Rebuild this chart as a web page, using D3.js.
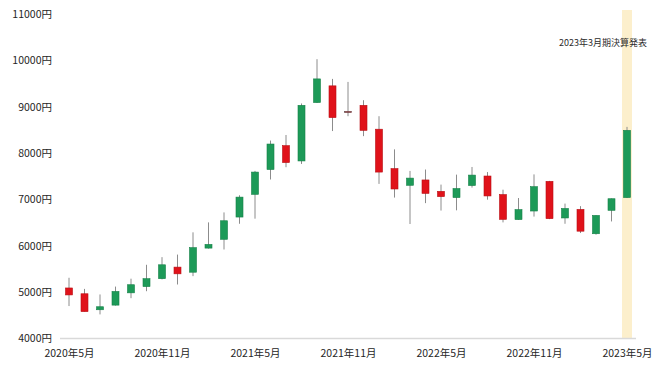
<!DOCTYPE html>
<html>
<head>
<meta charset="utf-8">
<script src="https://cdn.jsdelivr.net/npm/d3@7"></script>
<style>
  body { margin: 0; background: #fff; }
</style>
</head>
<body>
<div id="main"></div>
<script>
var months = ["2020-05","2020-06","2020-07","2020-08","2020-09","2020-10","2020-11","2020-12",
    "2021-01","2021-02","2021-03","2021-04","2021-05","2021-06","2021-07","2021-08","2021-09",
    "2021-10","2021-11","2021-12","2022-01","2022-02","2022-03","2022-04","2022-05","2022-06",
    "2022-07","2022-08","2022-09","2022-10","2022-11","2022-12","2023-01","2023-02","2023-03",
    "2023-04","2023-05"];
var openVals  = [5090,4965,4620,4720,4985,5120,5290,5540,5430,5950,6140,6620,7110,7645,8160,7830,9090,
    9450,8900,9030,8515,7665,7305,7420,7175,7040,7300,7505,7105,6565,6750,7390,6600,6785,6260,6765,7040];
var highVals  = [5310,5070,4950,5120,5290,5590,5755,5810,6290,6505,6720,7090,7615,8270,8390,9070,10025,
    9600,9535,9140,8795,8080,7615,7645,7320,7535,7700,7590,7210,7030,7540,7400,6910,6855,6660,7020,8565];
var lowVals   = [4700,4580,4520,4710,4870,5020,5275,5165,5345,5940,5920,6475,6585,7430,7695,7765,9080,
    8475,8795,8365,7335,7040,6470,6920,6760,6765,7255,6995,6505,6560,6630,6575,6475,6275,6240,6525,7030];
var closeVals = [4940,4580,4685,5015,5160,5290,5590,5395,5960,6030,6540,7050,7590,8195,7795,9030,9600,
    8765,8890,8490,7590,7225,7460,7130,7060,7235,7525,7075,6570,6780,7275,6585,6805,6315,6655,7015,8490];
var yTicks = [4000,5000,6000,7000,8000,9000,10000,11000];
var xTickMonths = ["2020-05","2020-11","2021-05","2021-11","2022-05","2022-11","2023-05"];
var highlightMonth = "2023-05";
var annotation = "2023年3月期決算発表";

var ctx = {
    w: 660,
    h: 369,
    FONT: "'Noto Sans CJK JP', 'Noto Sans', sans-serif",
    UP: "#1d9a58",
    DOWN: "#e0121a",
    WICK: "#8c8c8c",
};

var monthLabel = function(m) {
    var p = m.split("-");
    return p[0] + "年" + parseInt(p[1]) + "月";
};

var initScales = function() {
    ctx.xScale = d3.scalePoint().domain(months).range([69, 627]);
    ctx.yScale = d3.scaleLinear().domain([4000, 11000]).range([338.5, 14]);
};

var drawBackground = function() {
    var g = d3.select("#bkgG");
    // highlight band for the results announcement
    g.append("rect")
        .attr("x", ctx.xScale(highlightMonth) - 5)
        .attr("y", 10)
        .attr("width", 10)
        .attr("height", ctx.yScale(4000) - 10)
        .style("fill", "#fcefcc");
    g.append("text")
        .attr("x", 647)
        .attr("y", 46)
        .style("text-anchor", "end")
        .style("font-family", ctx.FONT)
        .style("font-size", "9px")
        .style("fill", "#2b2b2b")
        .text(annotation);
    // y axis labels
    var yAxis = d3.axisLeft(ctx.yScale).tickValues(yTicks)
        .tickSize(0).tickPadding(0)
        .tickFormat(function(d){ return d + "円"; });
    var ya = g.append("g").attr("transform", "translate(52,0)").call(yAxis);
    ya.select(".domain").remove();
    ya.selectAll("text")
        .style("font-family", ctx.FONT)
        .style("font-size", "10.5px")
        .style("fill", "#262626");
    // x axis
    var xAxis = d3.axisBottom(ctx.xScale).tickValues(xTickMonths)
        .tickSize(0).tickPadding(11)
        .tickFormat(monthLabel);
    var xa = g.append("g").attr("transform", "translate(0," + ctx.yScale(4000) + ")").call(xAxis);
    xa.select(".domain").remove();
    xa.selectAll("text")
        .style("font-family", ctx.FONT)
        .style("font-size", "10.5px")
        .style("fill", "#262626");
    g.append("line")
        .attr("x1", 60).attr("x2", 636)
        .attr("y1", ctx.yScale(4000)).attr("y2", ctx.yScale(4000))
        .style("stroke", "#d9d9d9")
        .style("stroke-width", 1.5);
};

var drawCandles = function() {
    var data = months.map(function(m, i) {
        return {m: m, o: openVals[i], h: highVals[i], l: lowVals[i], c: closeVals[i]};
    });
    var g = d3.select("#rootG").append("g").attr("id", "candleG");
    var c = g.selectAll("g.candle").data(data).enter().append("g").attr("class", "candle");
    c.append("line")
        .attr("x1", function(d){ return ctx.xScale(d.m); })
        .attr("x2", function(d){ return ctx.xScale(d.m); })
        .attr("y1", function(d){ return ctx.yScale(d.h); })
        .attr("y2", function(d){ return ctx.yScale(d.l); })
        .style("stroke", ctx.WICK)
        .style("stroke-width", 1);
    var bw = 7;
    c.append("rect")
        .attr("x", function(d){ return ctx.xScale(d.m) - bw/2; })
        .attr("width", bw)
        .attr("y", function(d){ return ctx.yScale(Math.max(d.o, d.c)); })
        .attr("height", function(d){
            return Math.max(1.2, Math.abs(ctx.yScale(d.o) - ctx.yScale(d.c)));
        })
        .style("fill", function(d){ return d.c >= d.o ? ctx.UP : ctx.DOWN; })
        .style("stroke", function(d){
            if (Math.abs(d.o - d.c) < 20) { return "#555"; }
            return d.c >= d.o ? "#168048" : "#b80f14";
        })
        .style("stroke-width", 0.6);
};

var createViz = function() {
    var svgEl = d3.select("#main").append("svg")
        .attr("width", ctx.w)
        .attr("height", ctx.h);
    var rootG = svgEl.append("g").attr("id", "rootG");
    rootG.append("g").attr("id", "bkgG");
    initScales();
    drawBackground();
    drawCandles();
};

createViz();
</script>
</body>
</html>
